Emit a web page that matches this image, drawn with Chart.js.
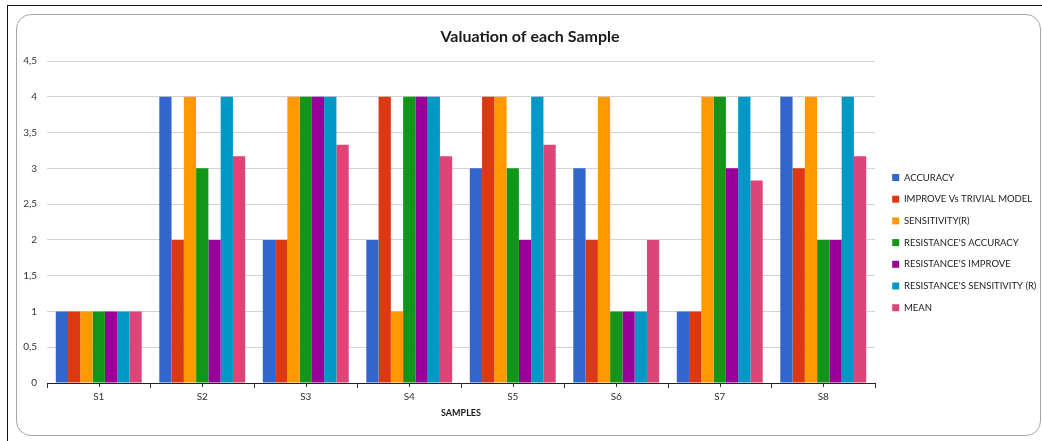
<!DOCTYPE html>
<html>
<head>
<meta charset="utf-8">
<title>Valuation of each Sample</title>
<script src="https://cdn.jsdelivr.net/npm/chart.js@4.4.1/dist/chart.umd.min.js"></script>
<style>
  html, body { margin: 0; padding: 0; background: #fff; }
  #wrap { position: relative; width: 1042px; height: 441px; overflow: hidden; }
  #sheet { position: absolute; left: 7px; top: 5px; width: 1100px; height: 500px;
           border-left: 1.5px solid #111; border-top: 1.5px solid #111; }
  #panel { position: absolute; left: 16px; top: 14px; width: 1025px; height: 422px;
           border: 1px solid #a6a6a6; border-radius: 15px; box-sizing: border-box; }
  #chart { position: absolute; left: 0; top: 0; }
</style>
</head>
<body>
<div id="wrap">
  <div id="sheet"></div>
  <div id="panel"></div>
  <canvas id="chart" width="1042" height="441"></canvas>
</div>
<script>
// Samples on the x axis
const samples = ['S1', 'S2', 'S3', 'S4', 'S5', 'S6', 'S7', 'S8'];

// Scores per criterion, one value per sample
const accuracy            = [1, 4, 2, 2, 3, 3, 1, 4];
const improveVsTrivial    = [1, 2, 2, 4, 4, 2, 1, 3];
const sensitivity         = [1, 4, 4, 1, 4, 4, 4, 4];
const resistanceAccuracy  = [1, 3, 4, 4, 3, 1, 4, 2];
const resistanceImprove   = [1, 2, 4, 4, 2, 1, 3, 2];
const resistanceSensitiv  = [1, 4, 4, 4, 4, 1, 4, 4];
const mean                = [1, 3.17, 3.33, 3.17, 3.33, 2, 2.83, 3.17];

const seriesLabels = [
  'ACCURACY',
  'IMPROVE Vs TRIVIAL MODEL',
  'SENSITIVITY(R)',
  "RESISTANCE'S ACCURACY",
  "RESISTANCE'S IMPROVE",
  "RESISTANCE'S SENSITIVITY (R)",
  'MEAN'
];
const seriesValues = [accuracy, improveVsTrivial, sensitivity, resistanceAccuracy,
                      resistanceImprove, resistanceSensitiv, mean];
const seriesColors = ['#3366cc', '#dc3912', '#ff9900', '#109618', '#990099', '#0099c6', '#dd4477'];

const FONT = 'Lato, "Open Sans", "DejaVu Sans", sans-serif';
const LEGEND_WIDTH = 167;

// Keeps the legend column at a fixed width and nudges it off the plot edge
const legendPlacement = {
  id: 'legendPlacement',
  afterInit(chart) {
    const legend = chart.legend;
    const fit = legend.fit.bind(legend);
    legend.fit = function () { fit(); this.width = LEGEND_WIDTH; };
  },
  afterLayout(chart) {
    chart.legend.left += 5;
  }
};

// Short marks under the axis at each category centre
const centreTicks = {
  id: 'centreTicks',
  afterDraw(chart) {
    const x = chart.scales.x;
    const ctx = chart.ctx;
    ctx.save();
    ctx.strokeStyle = '#333';
    ctx.lineWidth = 1;
    ctx.beginPath();
    samples.forEach((_, i) => {
      const px = Math.round(x.getPixelForValue(i)) + 0.5;
      ctx.moveTo(px, x.top);
      ctx.lineTo(px, x.top + 4);
    });
    ctx.stroke();
    ctx.restore();
  }
};

new Chart(document.getElementById('chart'), {
  type: 'bar',
  data: {
    labels: samples,
    datasets: seriesLabels.map((label, i) => ({
      label,
      data: seriesValues[i],
      backgroundColor: seriesColors[i],
      borderWidth: 0,
      categoryPercentage: 0.83,
      barPercentage: 1.0
    }))
  },
  options: {
    responsive: false,
    animation: false,
    devicePixelRatio: 1,
    layout: { padding: { left: 18, right: 0, top: 0, bottom: 0 } },
    plugins: {
      title: {
        display: true,
        text: 'Valuation of each Sample',
        color: '#1a1a1a',
        font: { family: FONT, size: 16, weight: 'bold' },
        padding: { top: 27, bottom: 14.8 }
      },
      legend: {
        position: 'right',
        align: 'center',
        title: { display: true, text: '', font: { size: 10 }, padding: { top: 32.2, bottom: 0 } },
        labels: {
          boxWidth: 7,
          boxHeight: 7,
          padding: 12.2,
          color: '#1a1a1a',
          font: { family: FONT, size: 9.5 }
        }
      },
      tooltip: { enabled: false }
    },
    scales: {
      x: {
        afterFit(scale) { scale.height = 58; },
        grid: {
          display: true,
          drawOnChartArea: false,
          drawTicks: true,
          tickLength: 5,
          color: '#333'
        },
        border: { display: true, color: '#222', width: 1 },
        ticks: {
          color: '#333',
          padding: 3,
          font: { family: FONT, size: 10 }
        },
        title: {
          display: true,
          text: 'SAMPLES',
          color: '#1a1a1a',
          font: { family: FONT, size: 9, weight: 'bold' },
          padding: { top: 0, bottom: 22.6 }
        }
      },
      y: {
        min: 0,
        max: 4.5,
        afterFit(scale) { scale.width = 29; },
        grid: {
          color: '#d3d3d3',
          lineWidth: 1,
          drawTicks: false
        },
        border: { display: false },
        ticks: {
          stepSize: 0.5,
          padding: 10,
          color: '#333',
          font: { family: FONT, size: 10 },
          callback: (v) => String(v).replace('.', ',')
        }
      }
    }
  },
  plugins: [legendPlacement, centreTicks]
});
</script>
</body>
</html>
